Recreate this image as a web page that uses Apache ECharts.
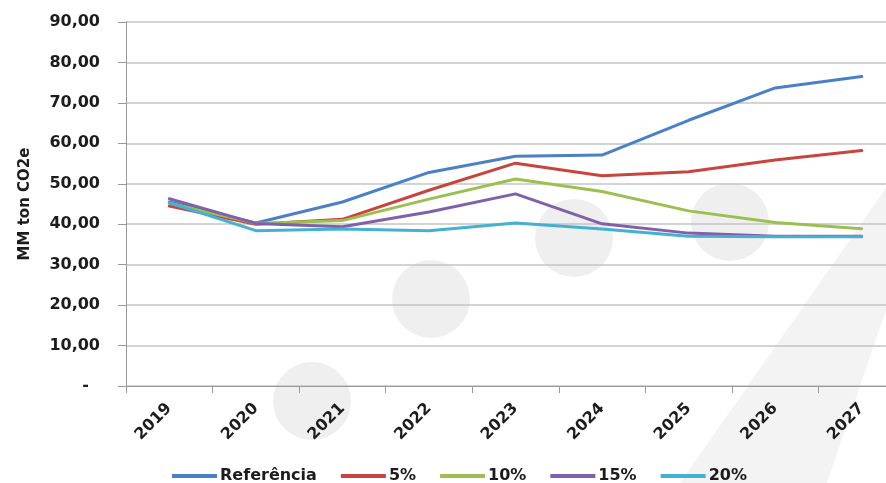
<!DOCTYPE html>
<html>
<head>
<meta charset="utf-8">
<script src="https://cdn.jsdelivr.net/npm/echarts@6/dist/echarts.min.js"></script>
<style>
  html, body { margin: 0; padding: 0; background: #ffffff; }
  #chart { width: 886px; height: 483px; }
</style>
</head>
<body>
<div id="chart"></div>
<script>
// Emission scenarios, MM ton CO2e per year
const years = ['2019', '2020', '2021', '2022', '2023', '2024', '2025', '2026', '2027'];
const referencia = [45.5, 40.3, 45.5, 52.8, 56.8, 57.1, 65.7, 73.7, 76.5];
const red5 = [44.5, 40.0, 41.2, 48.4, 55.1, 52.0, 53.0, 55.9, 58.2];
const red10 = [45.2, 40.2, 40.9, 46.2, 51.2, 48.1, 43.3, 40.4, 38.9];
const red15 = [46.3, 40.2, 39.4, 43.0, 47.5, 40.1, 37.8, 37.0, 37.0];
const red20 = [45.3, 38.4, 38.8, 38.4, 40.3, 38.8, 37.0, 36.9, 36.9];
const seriesNames = ['Referência', '5%', '10%', '15%', '20%'];
const seriesColors = ['#4A80C8', '#C8443F', '#9BC050', '#8060AA', '#45B1D1'];
const seriesValues = [referencia, red5, red10, red15, red20];

const FONT = 'DejaVu Sans';
const TEXT = '#1c1c1c';

const chart = echarts.init(document.getElementById('chart'), null, { renderer: 'canvas' });

// light background ornaments (dots and slanted band)
const deco = '#efefef';
const ornaments = [
  { type: 'polygon', z: -10, silent: true,
    shape: { points: [[680, 483], [886, 188], [886, 310], [827, 483]] },
    style: { fill: '#f3f3f3' } },
  { type: 'circle', z: -10, silent: true, shape: { cx: 312, cy: 401, r: 39 }, style: { fill: deco } },
  { type: 'circle', z: -10, silent: true, shape: { cx: 431, cy: 299, r: 39 }, style: { fill: deco } },
  { type: 'circle', z: -10, silent: true, shape: { cx: 574, cy: 238, r: 39 }, style: { fill: deco } },
  { type: 'circle', z: -10, silent: true, shape: { cx: 730, cy: 222, r: 39 }, style: { fill: deco } }
];

chart.setOption({
  animation: false,
  backgroundColor: '#ffffff',
  graphic: ornaments,
  // plot area runs past the right edge of the canvas
  grid: { left: 126, top: 22, height: 364, width: 779, containLabel: false, outerBoundsMode: 'none' },
  legend: {
    data: seriesNames,
    left: 172,
    top: 468,
    padding: 0,
    icon: 'rect',
    itemWidth: 45,
    itemHeight: 4,
    itemGap: 24,
    textStyle: { fontFamily: FONT, fontSize: 16, fontWeight: 'bold', color: TEXT, padding: [0, 0, 0, -2] }
  },
  xAxis: {
    type: 'category',
    data: years,
    boundaryGap: true,
    axisLine: { lineStyle: { color: '#9a9a9a', width: 1 } },
    axisTick: { show: true, length: 7, lineStyle: { color: '#9a9a9a' } },
    axisLabel: {
      rotate: 45, margin: 20,
      fontFamily: FONT, fontSize: 16, fontWeight: 'bold', color: TEXT
    },
    splitLine: { show: false }
  },
  yAxis: {
    type: 'value',
    min: 0, max: 90, interval: 10,
    name: 'MM ton CO2e',
    nameLocation: 'middle',
    nameGap: 93,
    nameTextStyle: { fontFamily: FONT, fontSize: 15, fontWeight: 'bold', color: TEXT },
    axisLine: { show: true, lineStyle: { color: '#9a9a9a', width: 1 } },
    axisTick: { show: true, length: 8, lineStyle: { color: '#9a9a9a' } },
    axisLabel: {
      margin: 26,
      fontFamily: FONT, fontSize: 16, fontWeight: 'bold', color: TEXT,
      formatter: v => v === 0 ? '-  ' : v.toFixed(2).replace('.', ',')
    },
    splitLine: { show: true, lineStyle: { color: '#c4c4c4', width: 1.5 } }
  },
  series: seriesNames.map((name, i) => ({
    name: name,
    type: 'line',
    data: seriesValues[i],
    symbol: 'none',
    lineStyle: { width: 3, color: seriesColors[i], cap: 'round', join: 'round' },
    itemStyle: { color: seriesColors[i] },
    z: 2 + i
  }))
});
</script>
</body>
</html>
